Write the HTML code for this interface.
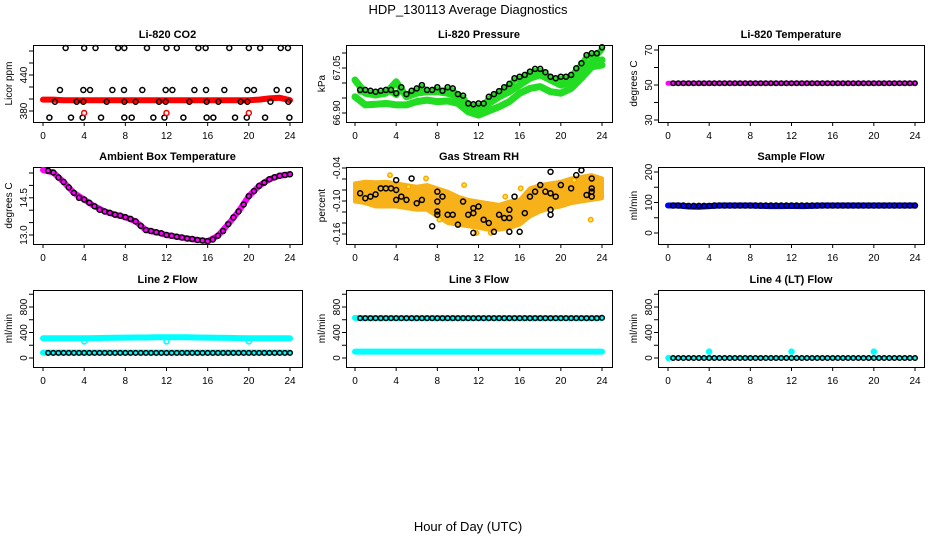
<!DOCTYPE html>
<html><head><meta charset="utf-8"><title>HDP_130113 Average Diagnostics</title>
<style>
html,body{margin:0;padding:0;background:#fff;}
svg{display:block;font-family:"Liberation Sans",Arial,sans-serif;}
</style></head>
<body>
<svg id="chart" width="936" height="540" viewBox="0 0 936 540" xmlns="http://www.w3.org/2000/svg">
<rect x="0" y="0" width="936" height="540" fill="#fff"/>
<text x="468" y="14" text-anchor="middle" font-size="13">HDP_130113  Average Diagnostics</text>
<text x="468" y="531" text-anchor="middle" font-size="13">Hour of Day (UTC)</text>
</svg>
<script>
// ---------- data ----------
const hours = [0,1,2,3,4,5,6,7,8,9,10,11,12,13,14,15,16,17,18,19,20,21,22,23,24];
const halfHours = [0.5,1,1.5,2,2.5,3,3.5,4,4.5,5,5.5,6,6.5,7,7.5,8,8.5,9,9.5,10,10.5,11,11.5,12,12.5,13,13.5,14,14.5,15,15.5,16,16.5,17,17.5,18,18.5,19,19.5,20,20.5,21,21.5,22,22.5,23,23.5,24];
const xTicks = [0,4,8,12,16,20,24];

// CO2
const co2Red = [399,399,398,398,398,398,398,398,398,398,398,398,398,398,398,398,398,398,398,398,398,399,401,402,398];
const co2TopT = [2.2,4,5.1,7.3,7.9,10.1,12,13,15.1,15.8,18.1,20,21.1,23.1,23.8];
const co2TopV = [485,485,485,485,485,485,485,485,485,485,485,485,485,485,485];
const co2UpT = [1.65,3.92,4.57,6.74,7.87,9.65,11.92,12.57,14.71,15.84,17.62,19.86,20.5,22.7,23.84];
const co2UpV = [415,415,415,415,415,415,415,415,415,415,415,415,415,415,415];
const co2MidT = [1.16,3.27,3.92,6.19,7.9,9.0,11.27,11.92,14.22,15.9,17.04,19.2,19.86,22.1,23.84];
const co2MidV = [395.5,395.5,395.5,395.5,395.5,395.5,395.5,395.5,395.5,395.5,395.5,395.5,395.5,395.5,395.5];
const co2LowT = [0.62,2.72,3.85,5.64,7.9,8.62,10.72,11.8,13.64,15.9,16.55,18.66,19.8,21.58,23.94];
const co2LowV = [369,369,369,369,369,369,369,369,369,369,369,369,369,369,369];
const co2RedOutT = [4,12,20];
const co2RedOutV = [376.7,376.7,376.7];

// Pressure
const presGreenMid = [67.01,66.966,66.96,66.966,67.004,66.954,66.966,66.971,66.971,66.966,66.954,66.927,66.916,66.932,66.954,66.971,66.993,67.016,67.027,67.01,66.993,67.004,67.038,67.071,67.077];
const presGreenLow = [66.954,66.927,66.929,66.932,66.927,66.927,66.938,66.943,66.938,66.94,66.932,66.904,66.893,66.907,66.921,66.938,66.966,66.982,66.988,66.971,66.966,66.982,67.016,67.054,67.06];
const presBlack = [66.977,66.977,66.974,66.971,66.974,66.977,66.977,66.966,66.986,66.963,66.974,66.982,66.993,66.977,66.977,66.986,66.974,66.986,66.982,66.963,66.958,66.932,66.929,66.932,66.932,66.954,66.963,66.973,66.986,66.997,67.016,67.021,67.027,67.038,67.047,67.047,67.036,67.021,67.016,67.021,67.021,67.027,67.049,67.066,67.093,67.099,67.099,67.119];

// Li-820 temperature
const tempPink = [51,51,51,51,51,51,51,51,51,51,51,51,51,51,51,51,51,51,51,51,51,51,51,51,51];
const tempBlack = [51,51,51,51,51,51,51,51,51,51,51,51,51,51,51,51,51,51,51,51,51,51,51,51,51,51,51,51,51,51,51,51,51,51,51,51,51,51,51,51,51,51,51,51,51,51,51,51];

// Ambient box temperature
const ambPink = [15.62,15.52,15.14,14.7,14.43,14.16,13.95,13.82,13.72,13.55,13.2,13.11,13.0,12.93,12.86,12.8,12.75,12.97,13.44,13.95,14.57,14.98,15.25,15.39,15.45];
const ambBlack = [15.59,15.52,15.32,15.14,14.92,14.7,14.5,14.43,14.3,14.16,14.02,13.95,13.89,13.82,13.78,13.72,13.65,13.55,13.37,13.2,13.16,13.11,13.07,13.0,12.97,12.93,12.9,12.86,12.84,12.8,12.78,12.75,12.82,12.97,13.16,13.44,13.71,13.95,14.23,14.57,14.77,14.98,15.11,15.25,15.33,15.39,15.42,15.45];

// Gas stream RH
const rhUpper = [-0.068,-0.065,-0.066,-0.065,-0.068,-0.071,-0.074,-0.071,-0.077,-0.083,-0.092,-0.098,-0.101,-0.104,-0.107,-0.101,-0.098,-0.077,-0.071,-0.068,-0.065,-0.059,-0.056,-0.053,-0.059];
const rhLower = [-0.101,-0.104,-0.110,-0.110,-0.110,-0.113,-0.116,-0.116,-0.128,-0.140,-0.143,-0.146,-0.149,-0.152,-0.152,-0.149,-0.143,-0.128,-0.119,-0.113,-0.110,-0.104,-0.101,-0.098,-0.095];
const rhOutT = [3.4,6.9,5.2,8.2,10.6,11.8,14.6,16.1,21.3,22.9,13.2,18.4];
const rhOutV = [-0.053,-0.059,-0.074,-0.134,-0.071,-0.158,-0.092,-0.077,-0.062,-0.134,-0.158,-0.080];
const rhT = [0.5,1,1.5,2,2.5,3,3.5,4,4,4,4.5,5,5.5,6,6.5,7.5,8,8,8,8,8.5,9,9.5,10,10.5,11,11.5,11.5,11.5,12,12.5,13,13.5,14,14.5,15,15,15,15.5,16,16.5,17,17.5,18,18.5,19,19,19,19,19.5,20,21,21.5,22,22.5,23,23,23,23];
const rhV = [-0.086,-0.095,-0.092,-0.088,-0.077,-0.077,-0.077,-0.062,-0.080,-0.098,-0.092,-0.098,-0.059,-0.104,-0.098,-0.146,-0.083,-0.101,-0.119,-0.125,-0.092,-0.125,-0.125,-0.143,-0.101,-0.125,-0.113,-0.122,-0.158,-0.110,-0.134,-0.140,-0.156,-0.125,-0.131,-0.116,-0.131,-0.156,-0.092,-0.156,-0.122,-0.092,-0.083,-0.071,-0.083,-0.047,-0.086,-0.116,-0.125,-0.092,-0.071,-0.077,-0.053,-0.044,-0.089,-0.077,-0.083,-0.092,-0.059];

// Sample flow
const sampBlue = [90,90,87,86,88,90,90,90,90,89,88,88,89,88,89,90,90,90,90,90,90,90,90,90,90];
const sampBlack = [90,90,90,89,89,89,89,89,90,90,90,90,90,90,90,90,90,90,90,90,90,90,90,90,90,90,90,90,90,90,90,90,90,90,90,90,90,90,90,90,90,90,90,90,90,90,90,90];

// Line 2 flow
const l2CyanHi = [310,310,310,310,310,312,315,318,320,322,322,325,325,325,325,322,320,318,315,312,310,310,310,310,310];
const l2CyanLo = [85,85,85,85,85,85,85,85,85,85,85,85,85,85,85,85,85,85,85,85,85,85,85,85,85];
const l2Black = [80,80,80,80,80,80,80,80,80,80,80,80,80,80,80,80,80,80,80,80,80,80,80,80,80,80,80,80,80,80,80,80,80,80,80,80,80,80,80,80,80,80,80,80,80,80,80,80];
const l2OutT = [4,12,20];
const l2OutV = [260,260,260];

// Line 3 flow
const l3CyanHi = [630,625,625,625,625,625,625,625,625,625,625,625,625,625,625,625,625,625,625,625,625,625,625,625,628];
const l3CyanLo = [100,100,100,100,100,100,100,100,100,100,100,100,100,100,100,100,100,100,100,100,100,100,100,100,100];
const l3Black = [625,625,625,625,625,625,625,625,625,625,625,625,625,625,625,625,625,625,625,625,625,625,625,625,625,625,625,625,625,625,625,625,625,625,625,625,625,625,625,625,625,625,625,625,625,625,625,630];

// Line 4 flow
const l4Cyan = [0,0,0,0,0,0,0,0,0,0,0,0,0,0,0,0,0,0,0,0,0,0,0,0,0];
const l4Black = [0,0,0,0,0,0,0,0,0,0,0,0,0,0,0,0,0,0,0,0,0,0,0,0,0,0,0,0,0,0,0,0,0,0,0,0,0,0,0,0,0,0,0,0,0,0,0,0];
const l4OutT = [4,12,20];
const l4OutV = [100,100,100];

// ---------- drawing ----------
const NS = 'http://www.w3.org/2000/svg';
const svg = document.getElementById('chart');
function el(tag, parent, name) {
  const e = document.createElementNS(NS, tag);
  
  
  parent.appendChild(e);
  return e;
}
function panel(cfg) {
  const g = el('g', svg, cfg.name);
  const [L, T, R, B] = cfg.box;
  const sx = h => cfg.x0 + (cfg.x24 - cfg.x0) * h / 24;
  const sy = v => cfg.yA[1] + (v - cfg.yA[0]) * (cfg.yA[3] - cfg.yA[1]) / (cfg.yA[2] - cfg.yA[0]);
  const title = el('text', g, 'panel-title');
  title.setAttribute('x', (L + R) / 2); title.setAttribute('y', T - 7);
  title.setAttribute('text-anchor', 'middle'); title.setAttribute('font-size', '11'); title.setAttribute('font-weight', 'bold');
  title.textContent = cfg.title;
  xTicks.forEach(h => {
    const t = el('line', g, 'x-tick');
    t.setAttribute('x1', sx(h)); t.setAttribute('x2', sx(h));
    t.setAttribute('y1', B); t.setAttribute('y2', B + 4); t.setAttribute('stroke', '#000');
    const lb = el('text', g, 'x-tick-label');
    lb.setAttribute('x', sx(h)); lb.setAttribute('y', B + 17);
    lb.setAttribute('text-anchor', 'middle'); lb.setAttribute('font-size', '10');
    lb.textContent = h;
  });
  const ax = el('line', g, 'x-axis-line');
  ax.setAttribute('x1', sx(0)); ax.setAttribute('x2', sx(24)); ax.setAttribute('y1', B + 0.5); ax.setAttribute('y2', B + 0.5); ax.setAttribute('stroke', '#000');
  cfg.yTicks.forEach((v, i) => {
    const t = el('line', g, 'y-tick');
    t.setAttribute('x1', L - 4); t.setAttribute('x2', L);
    t.setAttribute('y1', sy(v)); t.setAttribute('y2', sy(v)); t.setAttribute('stroke', '#000');
    const s = cfg.yLabels[i];
    if (s) {
      const lb = el('text', g, 'y-tick-label');
      lb.setAttribute('x', L - 6); lb.setAttribute('y', sy(v));
      lb.setAttribute('text-anchor', 'middle'); lb.setAttribute('font-size', '10');
      lb.setAttribute('transform', 'rotate(-90 ' + (L - 6) + ' ' + sy(v) + ')');
      lb.textContent = s;
    }
  });
  const yl = el('text', g, 'y-axis-title');
  yl.setAttribute('x', L - 21); yl.setAttribute('y', (T + B) / 2);
  yl.setAttribute('text-anchor', 'middle'); yl.setAttribute('font-size', '10');
  yl.setAttribute('transform', 'rotate(-90 ' + (L - 21) + ' ' + (T + B) / 2 + ')');
  yl.textContent = cfg.ylab;
  const box = el('rect', g, 'plot-frame');
  box.setAttribute('x', L + 0.5); box.setAttribute('y', T + 0.5);
  box.setAttribute('width', R - L); box.setAttribute('height', B - T);
  box.setAttribute('fill', 'none'); box.setAttribute('stroke', '#000');
  const data = el('g', g, 'plot-area');
  return { g: data, sx, sy };
}
function band(p, ts, vs, color, w, name) {
  const pl = el('polyline', p.g, name);
  pl.setAttribute('points', ts.map((t, i) => p.sx(t) + ',' + p.sy(vs[i])).join(' '));
  pl.setAttribute('fill', 'none'); pl.setAttribute('stroke', color);
  pl.setAttribute('stroke-width', w); pl.setAttribute('stroke-linejoin', 'round'); pl.setAttribute('stroke-linecap', 'round');
}
function area(p, ts, hi, lo, fill, name) {
  const pg = el('polygon', p.g, name);
  const pts = ts.map((t, i) => p.sx(t) + ',' + p.sy(hi[i])).concat(ts.slice().reverse().map((t, j) => p.sx(t) + ',' + p.sy(lo[ts.length - 1 - j])));
  pg.setAttribute('points', pts.join(' '));
  pg.setAttribute('fill', fill); pg.setAttribute('stroke', fill); pg.setAttribute('stroke-width', '4'); pg.setAttribute('stroke-linejoin', 'round');
}
function pts(p, ts, vs, stroke, fill, r, name) {
  ts.forEach((t, i) => {
    const c = el('circle', p.g, name);
    c.setAttribute('cx', p.sx(t)); c.setAttribute('cy', p.sy(vs[i])); c.setAttribute('r', r);
    c.setAttribute('fill', fill); c.setAttribute('stroke', stroke); c.setAttribute('stroke-width', '1.5');
  });
}
const C1 = { box: [33, 45, 302, 122], x0: 43, x24: 290 };
const C2 = { box: [346, 45, 612, 122], x0: 355, x24: 602 };
const C3 = { box: [658, 45, 924, 122], x0: 668, x24: 915 };
function at(col, top, bottom) { return { box: [col.box[0], top, col.box[2], bottom], x0: col.x0, x24: col.x24 }; }

// Row 1
let p = panel(Object.assign(at(C1, 45, 122), { name: 'panel-co2', title: 'Li-820 CO2', ylab: 'Licor ppm', yA: [380, 111, 440, 75], yTicks: [380, 400, 420, 440, 460, 480], yLabels: ['380', '', '', '440', '', ''] }));
band(p, hours, co2Red, '#ff0000', 6, 'co2-series-red');
pts(p, co2TopT, co2TopV, '#000', 'none', 2.5, 'co2-point');
pts(p, co2UpT, co2UpV, '#000', 'none', 2.5, 'co2-point');
pts(p, co2MidT, co2MidV, '#000', 'none', 2.5, 'co2-point');
pts(p, co2LowT, co2LowV, '#000', 'none', 2.5, 'co2-point');
pts(p, co2RedOutT, co2RedOutV, '#ff0000', 'none', 2.5, 'co2-red-outlier');

p = panel(Object.assign(at(C2, 45, 122), { name: 'panel-pressure', title: 'Li-820 Pressure', ylab: 'kPa', yA: [66.90, 113, 67.05, 68], yTicks: [66.90, 66.95, 67.00, 67.05, 67.10], yLabels: ['66.90', '', '', '67.05', ''] }));
band(p, hours, presGreenLow, '#22dd22', 7, 'pressure-series-green-low');
band(p, hours, presGreenMid, '#22dd22', 7, 'pressure-series-green-mid');
band(p, halfHours, presBlack.map(v => v - 0.006), '#22dd22', 6, 'pressure-series-green-high');
pts(p, halfHours, presBlack, '#000', 'none', 2.5, 'pressure-point');

p = panel(Object.assign(at(C3, 45, 122), { name: 'panel-li820-temperature', title: 'Li-820 Temperature', ylab: 'degrees C', yA: [30, 120, 70, 50], yTicks: [30, 40, 50, 60, 70], yLabels: ['30', '', '50', '', '70'] }));
band(p, hours, tempPink, '#ff00ff', 5, 'temperature-series-magenta');
pts(p, halfHours, tempBlack, '#000', 'none', 2.2, 'temperature-point');

// Row 2
p = panel(Object.assign(at(C1, 167, 244), { name: 'panel-ambient-temperature', title: 'Ambient Box Temperature', ylab: 'degrees C', yA: [13.0, 235, 15.5, 173], yTicks: [13.0, 13.5, 14.0, 14.5, 15.0, 15.5], yLabels: ['13.0', '', '', '14.5', '', ''] }));
band(p, hours, ambPink, '#ff00ff', 6, 'ambient-series-magenta');
pts(p, halfHours, ambBlack, '#000', 'none', 2.5, 'ambient-point');

p = panel(Object.assign(at(C2, 167, 244), { name: 'panel-gas-stream-rh', title: 'Gas Stream RH', ylab: 'percent', yA: [-0.16, 234, -0.04, 168], yTicks: [-0.16, -0.14, -0.12, -0.10, -0.08, -0.06, -0.04], yLabels: ['-0.16', '', '', '-0.10', '', '', '-0.04'] }));
area(p, hours, rhUpper, rhLower, '#f7b21a', 'rh-series-orange');
pts(p, rhOutT, rhOutV, '#ffa500', '#ffee44', 2.2, 'rh-orange-outlier');
pts(p, rhT, rhV, '#000', 'none', 2.5, 'rh-point');

p = panel(Object.assign(at(C3, 167, 244), { name: 'panel-sample-flow', title: 'Sample Flow', ylab: 'ml/min', yA: [0, 233, 200, 172], yTicks: [0, 50, 100, 150, 200], yLabels: ['0', '', '100', '', '200'] }));
band(p, hours, sampBlue, '#0000ff', 6, 'sample-series-blue');
pts(p, halfHours, sampBlack, '#000', 'none', 2.5, 'sample-point');

// Row 3
const flowY = { yA: [0, 358, 800, 307], yTicks: [0, 200, 400, 600, 800, 1000], yLabels: ['0', '', '400', '', '800', ''] };
p = panel(Object.assign(at(C1, 290, 367), flowY, { name: 'panel-line2-flow', title: 'Line 2 Flow', ylab: 'ml/min' }));
band(p, hours, l2CyanHi, '#00ffff', 6, 'line2-series-cyan-high');
band(p, hours, l2CyanLo, '#00ffff', 6, 'line2-series-cyan-low');
pts(p, l2OutT, l2OutV, '#00ffff', 'none', 2.5, 'line2-cyan-outlier');
pts(p, halfHours, l2Black, '#000', 'none', 2.3, 'line2-point');

p = panel(Object.assign(at(C2, 290, 367), flowY, { name: 'panel-line3-flow', title: 'Line 3 Flow', ylab: 'ml/min' }));
band(p, hours, l3CyanHi, '#00ffff', 6, 'line3-series-cyan-high');
band(p, hours, l3CyanLo, '#00ffff', 6, 'line3-series-cyan-low');
pts(p, halfHours, l3Black, '#000', 'none', 2.3, 'line3-point');

p = panel(Object.assign(at(C3, 290, 367), flowY, { name: 'panel-line4-flow', title: 'Line 4 (LT) Flow', ylab: 'ml/min' }));
band(p, hours, l4Cyan, '#00ffff', 4, 'line4-series-cyan');
pts(p, l4OutT, l4OutV, '#00ffff', '#00ffff', 2.5, 'line4-cyan-outlier');
pts(p, [0.05], [0], '#00ffff', '#00ffff', 2.5, 'line4-cyan-start');
pts(p, halfHours, l4Black, '#000', 'none', 2.3, 'line4-point');
</script>
</body></html>
